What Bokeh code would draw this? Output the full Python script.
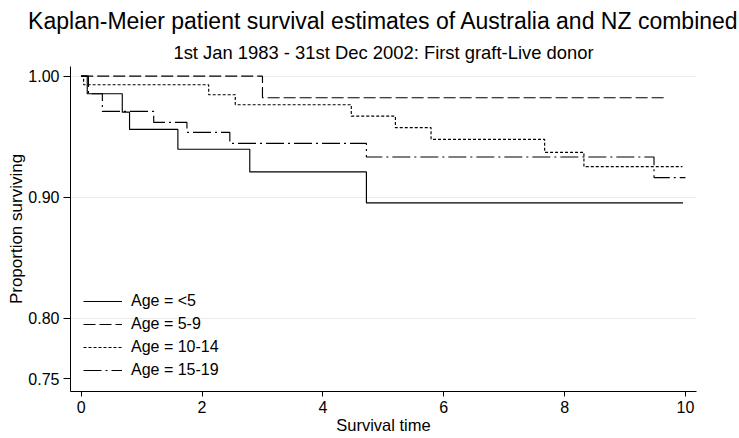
from bokeh.plotting import figure
from bokeh.models import Range1d, FixedTicker, Legend, LegendItem, NumeralTickFormatter, Title
from bokeh.embed import file_html
from bokeh.resources import INLINE

# ---- data ----
t_lt5 = [0.0, 0.10, 0.68, 0.80, 1.60, 2.79, 4.72, 9.96]
s_lt5 = [1.0, 0.9855, 0.9703, 0.9560, 0.9396, 0.9209, 0.8953, 0.8953]

t_5_9 = [0.0, 3.00, 9.67]
s_5_9 = [1.0, 0.9822, 0.9822]

t_10_14 = [0.0, 0.04, 2.11, 2.55, 4.47, 5.20, 5.79, 7.67, 8.32, 9.95]
s_10_14 = [1.0, 0.9929, 0.9847, 0.9764, 0.9670, 0.9575, 0.9478, 0.9371, 0.9253, 0.9253]

t_15_19 = [0.0, 0.12, 0.35, 1.20, 1.75, 2.46, 4.72, 9.48, 10.0]
s_15_19 = [1.0, 0.9855, 0.9709, 0.9618, 0.9536, 0.9445, 0.9332, 0.9162, 0.9162]

labels = ["Age = <5", "Age = 5-9", "Age = 10-14", "Age = 15-19"]
x_ticks = [0, 2, 4, 6, 8, 10]
y_ticks = [0.75, 0.80, 0.90, 1.00]
grid_ticks = [0.80, 0.90, 1.00]

title_text = "Kaplan-Meier patient survival estimates of Australia and NZ combined"
subtitle_text = "1st Jan 1983 - 31st Dec 2002: First graft-Live donor"
xlabel_text = "Survival time"
ylabel_text = "Proportion surviving"

FONT = "Liberation Sans"

# ---- geometry ----
W, H = 739, 438
X_MIN, X_MAX = -0.177, 10.183
Y_MIN, Y_MAX = 0.7395, 1.008

p = figure(width=W, height=H, output_backend="svg", toolbar_location=None, title=None,
           x_range=Range1d(X_MIN, X_MAX), y_range=Range1d(Y_MIN, Y_MAX),
           min_border_left=70, min_border_right=43, min_border_top=66, min_border_bottom=47)
p.outline_line_color = None
p.background_fill_color = "white"
p.border_fill_color = "white"

dashes = ["solid", "12 4", "3 2", "18 4 2 4"]
series = [(t_lt5, s_lt5), (t_5_9, s_5_9), (t_10_14, s_10_14), (t_15_19, s_15_19)]
items = []
for (t, s), lab, dash in zip(series, labels, dashes):
    r = p.step(t, s, mode="after", line_color="black", line_width=1.15, line_dash=dash)
    items.append(LegendItem(label=lab, renderers=[r]))

legend = Legend(items=items, location=(13, 11), orientation="vertical")
legend.border_line_color = None
legend.background_fill_alpha = 0
legend.padding = 0
legend.margin = 0
legend.spacing = 3
legend.glyph_width = 39
legend.glyph_height = 20
legend.label_height = 20
legend.label_standoff = 9
legend.label_text_font = FONT
legend.label_text_font_size = "16px"
legend.label_text_color = "black"
p.add_layout(legend, "center")

# axes
p.xaxis.ticker = FixedTicker(ticks=x_ticks)
p.yaxis.ticker = FixedTicker(ticks=y_ticks)
p.yaxis.formatter = NumeralTickFormatter(format="0.00")
for ax in (p.xaxis, p.yaxis):
    ax.axis_line_color = "black"
    ax.axis_line_width = 1
    ax.major_tick_line_color = "black"
    ax.major_tick_in = 0
    ax.minor_tick_line_color = None
    ax.major_label_text_font = FONT
    ax.major_label_text_font_size = "16px"
    ax.major_label_text_color = "black"
p.xaxis.major_tick_out = 5
p.xaxis.major_label_standoff = 4
p.yaxis.major_tick_out = 7
p.yaxis.major_label_standoff = 4

p.xaxis.axis_label = xlabel_text
p.xaxis.axis_label_text_font = FONT
p.xaxis.axis_label_text_font_size = "16.5px"
p.xaxis.axis_label_text_font_style = "normal"
p.xaxis.axis_label_text_color = "black"
p.xaxis.axis_label_standoff = 0

p.xgrid.grid_line_color = None
p.ygrid.ticker = FixedTicker(ticks=grid_ticks)
p.ygrid.grid_line_color = "#ebebeb"
p.ygrid.grid_line_width = 1

# y-axis title (outside the axis, shifted up a bit like the reference)
p.add_layout(Title(text=ylabel_text, align="center", offset=-20, standoff=0,
                   text_font=FONT, text_font_size="17px", text_font_style="normal",
                   text_color="black"), "left")

# subtitle first (nearest the frame), then the main title
p.add_layout(Title(text=subtitle_text, align="center", standoff=8,
                   text_font=FONT, text_font_size="18.4px", text_font_style="normal",
                   text_color="black"), "above")
p.add_layout(Title(text=title_text, align="center", standoff=4,
                   text_font=FONT, text_font_size="23px", text_font_style="normal",
                   text_color="black"), "above")

open("out.html", "w").write(file_html(p, INLINE))
